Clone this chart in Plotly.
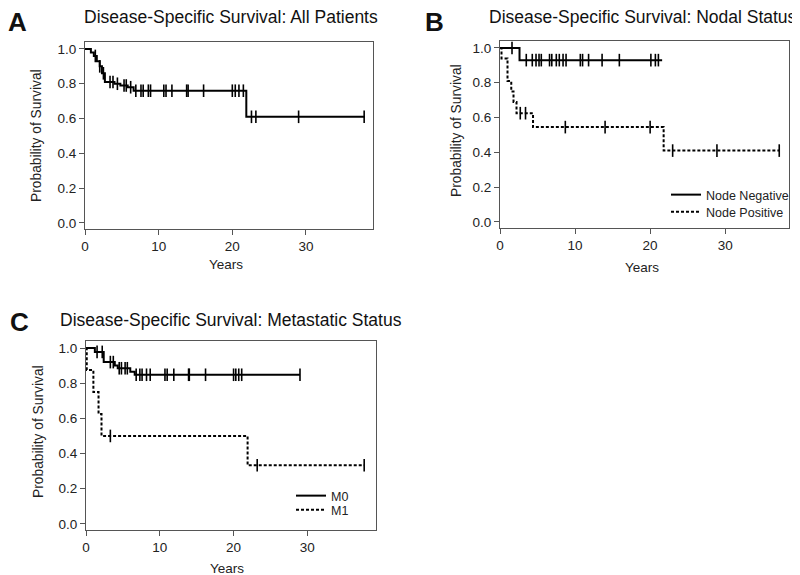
import plotly.graph_objects as go

# Panel A: all patients (step points and censor marks)
a_time = [0, 0.8, 1.2, 1.6, 2.0, 2.3, 2.7, 4.0, 4.8, 5.8, 6.6, 21.9, 38.0]
a_surv = [1.0, 0.98, 0.96, 0.93, 0.90, 0.86, 0.81, 0.80, 0.79, 0.78, 0.76, 0.61, 0.61]
a_cens_time = [1.4, 2.0, 2.5, 3.4, 3.8, 4.4, 5.3, 5.6, 6.2, 6.9, 7.6, 7.9, 8.6, 8.9, 10.7,
               11.0, 11.8, 13.8, 14.0, 16.1, 20.0, 20.4, 20.9, 21.5, 22.6, 23.2, 29.0, 37.9]
a_cens_surv = [0.96, 0.90, 0.86, 0.81, 0.81, 0.80, 0.79, 0.79, 0.78, 0.76, 0.76, 0.76, 0.76, 0.76, 0.76,
               0.76, 0.76, 0.76, 0.76, 0.76, 0.76, 0.76, 0.76, 0.76, 0.61, 0.61, 0.61, 0.61]

# Panel B: nodal status
neg_time = [0, 2.6, 21.6]
neg_surv = [1.0, 0.93, 0.93]
neg_cens_time = [1.6, 3.5, 4.3, 4.8, 5.2, 5.5, 6.6, 6.9, 7.5, 7.9, 8.4, 8.8, 10.7, 11.0, 11.8,
                 13.6, 15.9, 20.1, 20.7, 21.1]
neg_cens_surv = [1.0] + [0.93] * 19
pos_time = [0, 0.2, 1.0, 1.5, 1.8, 2.2, 4.4, 21.8, 37.3]
pos_surv = [1.0, 0.94, 0.81, 0.75, 0.69, 0.625, 0.545, 0.41, 0.41]
pos_cens_time = [2.7, 3.4, 8.7, 14.0, 20.0, 23.0, 28.9, 37.2]
pos_cens_surv = [0.625, 0.625, 0.545, 0.545, 0.545, 0.41, 0.41, 0.41]

# Panel C: metastatic status
m0_time = [0, 1.2, 2.4, 3.9, 4.3, 6.0, 6.6, 29.0]
m0_surv = [1.0, 0.978, 0.92, 0.90, 0.885, 0.865, 0.848, 0.848]
m0_cens_time = [1.5, 2.2, 3.3, 3.7, 4.5, 4.8, 5.3, 5.6, 6.8, 7.3, 7.6, 8.2, 8.7, 10.7, 11.0,
                11.9, 13.9, 14.0, 16.2, 20.0, 20.3, 20.7, 21.1, 29.0]
m0_cens_surv = [0.978, 0.978, 0.92, 0.92, 0.885, 0.885, 0.885, 0.885] + [0.848] * 16
m1_time = [0, 0.1, 1.0, 1.7, 2.1, 21.9, 37.7]
m1_surv = [1.0, 0.875, 0.75, 0.625, 0.5, 0.333, 0.333]
m1_cens_time = [3.3, 23.2, 37.7]
m1_cens_surv = [0.5, 0.333, 0.333]

FONT = "Liberation Sans, Arial, sans-serif"
# the page body has an 8px margin, so the figure is drawn 8px in from the window corner
OFF = 8
W, H = 800 - OFF, 575 - OFF


def px(x):
    return (x - OFF) / W


def py(y):
    return 1 - (y - OFF) / H


fig = go.Figure()


def add_curve(t, s, ct, cs, ax, name, dash, legend=None):
    fig.add_trace(go.Scatter(x=t, y=s, mode="lines", line_shape="hv", name=name,
                             line=dict(color="black", width=2, dash=dash),
                             xaxis="x" + ax, yaxis="y" + ax,
                             showlegend=legend is not None, legend=legend or "legend"))
    fig.add_trace(go.Scatter(x=ct, y=cs, mode="markers", showlegend=False,
                             marker=dict(symbol="line-ns", size=9,
                                         line=dict(color="black", width=1.6)),
                             xaxis="x" + ax, yaxis="y" + ax))


add_curve(a_time, a_surv, a_cens_time, a_cens_surv, "", "All", "solid")
add_curve(neg_time, neg_surv, neg_cens_time, neg_cens_surv, "2", "Node Negative", "solid", "legend")
add_curve(pos_time, pos_surv, pos_cens_time, pos_cens_surv, "2", "Node Positive", "3px,2px", "legend2")
add_curve(m0_time, m0_surv, m0_cens_time, m0_cens_surv, "3", "M0", "solid", "legend3")
add_curve(m1_time, m1_surv, m1_cens_time, m1_cens_surv, "3", "M1", "3px,2px", "legend4")

axis_common = dict(showline=True, linecolor="#555", linewidth=1.2, mirror=True,
                   ticks="outside", ticklen=5, tickcolor="#555", showgrid=False,
                   zeroline=False, tickfont=dict(family=FONT, size=13.5, color="#222"))

# pixel boxes in the window: (left, right, top, bottom, xmax)
boxes = {"": (85, 373, 42, 229, 39.1), "2": (500, 789, 41, 228, 38.5), "3": (86, 376, 341, 530, 39.3)}
for ax, (l, r, t, b, xmax) in boxes.items():
    fig.layout["xaxis" + ax] = dict(domain=[px(l), px(r)], range=[0, xmax], anchor="y" + ax,
                                    tickvals=[0, 10, 20, 30], **axis_common)
    fig.layout["yaxis" + ax] = dict(domain=[py(b), py(t)], range=[-0.035, 1.04], anchor="x" + ax,
                                    tickvals=[0, 0.2, 0.4, 0.6, 0.8, 1.0], tickformat=".1f",
                                    **axis_common)

annotations = []


def label(text, x, y, size, color="#222", angle=0):
    annotations.append(dict(text=text, x=px(x), y=py(y), xref="paper", yref="paper",
                            xanchor="center", yanchor="middle", textangle=angle,
                            showarrow=False, font=dict(family=FONT, size=size, color=color)))


label("Disease-Specific Survival: All Patients", 231, 17, 17.5, "#111")
label("Disease-Specific Survival: Nodal Status", 643, 17, 17.5, "#111")
label("Disease-Specific Survival: Metastatic Status", 231, 320, 17.5, "#111")
for text, x, y in [("A", 17, 22), ("B", 434, 22), ("C", 19, 322)]:
    label("<b>" + text + "</b>", x, y, 26, "#111")
for x, y in [(226, 265), (642, 267), (227, 568)]:
    label("Years", x, y, 13.5)
for x, y in [(36, 136), (456, 131), (38, 432)]:
    label("Probability of Survival", x, y, 13.8, angle=-90)

legend_style = dict(font=dict(family=FONT, size=12.5, color="#222"), bgcolor="rgba(0,0,0,0)",
                    xanchor="left", yanchor="middle", itemwidth=30, tracegroupgap=0)
fig.update_layout(
    width=W, height=H, margin=dict(l=0, r=0, t=0, b=0, autoexpand=False),
    paper_bgcolor="white", plot_bgcolor="white",
    annotations=annotations,
    legend=dict(x=px(666), y=py(195), **legend_style),
    legend2=dict(x=px(666), y=py(212), **legend_style),
    legend3=dict(x=px(291), y=py(496), **legend_style),
    legend4=dict(x=px(291), y=py(510), **legend_style),
)

fig.write_html("out.html")
